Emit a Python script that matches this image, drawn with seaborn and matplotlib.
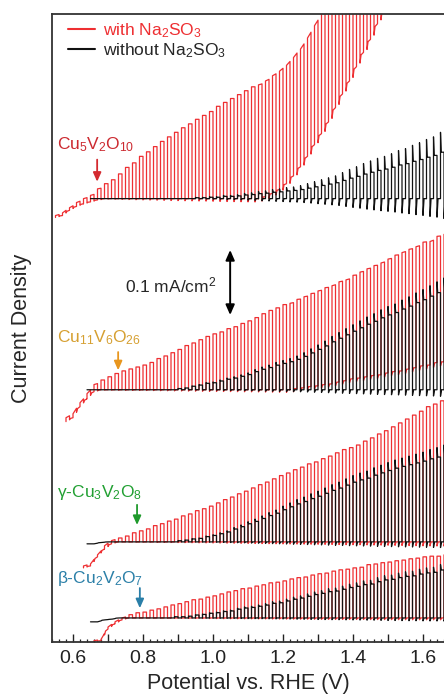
import numpy as np
import pandas as pd
import seaborn as sns
import matplotlib.pyplot as plt
from matplotlib.ticker import MultipleLocator, FuncFormatter

# light chopped once every 20 mV of the sweep (on for the first half)
period = 0.02

# values per chop cycle in uA/cm2, relative to each trace's dark baseline
# "on" = light-on level, "off" = dark level at the end of that cycle

# Cu5V2O10
cu5_red_start = 0.55
cu5_red_on = [-23, -14, -8, -2, 3, 8, 17, 23, 29, 38, 48, 55, 65, 72, 80, 88,
              95, 102, 109, 115, 122, 128, 134, 142, 148, 154, 160, 166, 172,
              178, 186, 195, 205, 217, 231, 246, 265, 283, 303, 325, 346, 366,
              388, 409, 431, 454, 477]
cu5_red_off = [-26, -18, -12, -8, -5, -2] + [0] * 23 + [
    3, 8, 14, 23, 35, 49, 65, 83, 100, 118, 140, 161, 181, 203, 225, 245,
    269, 292]
cu5_black_start = 0.65
cu5_black_on = [0] * 15 + [2, 2, 3, 3, 5, 5, 6, 8, 9, 11, 12, 14, 15, 17, 18,
                           20, 23, 26, 29, 32, 35, 40, 45, 49, 54, 58, 62, 65,
                           69, 74, 77, 82, 86, 91, 95, 102]
cu5_black_off = [0] * 51

# Cu11V6O26
cu11_red_start = 0.58
cu11_red_on = [-37, -20, -8, 5, 11, 15, 20, 25, 29, 32, 35, 38, 42, 48, 52, 57,
               62, 68, 72, 77, 82, 86, 89, 94, 97, 102, 106, 111, 117, 122,
               126, 131, 135, 140, 145, 149, 154, 158, 163, 168, 172, 177, 183,
               188, 192, 198, 203, 208, 214, 218, 223, 228, 232, 237, 242]
cu11_red_off = [-43, -26, -14, -3] + [0] * 28 + [
    2, 3, 5, 6, 8, 9, 12, 14, 17, 18, 20, 22, 23, 26, 28, 29, 32, 34, 37, 38,
    42, 43, 46]
cu11_black_start = 0.64
cu11_black_on = [0] * 13 + [2, 3, 6, 8, 11, 12, 15, 18, 20, 23, 26, 31, 35, 38,
                            42, 45, 48, 52, 57, 63, 69, 75, 82, 88, 94, 100,
                            106, 112, 117, 123, 128, 132, 138, 143, 149, 154,
                            160, 166, 172]
cu11_black_off = [0] * 52

# gamma-Cu3V2O8
g_red_start = 0.63
g_red_on = [-34, -20, -8, 2, 5, 6, 9, 14, 17, 20, 25, 28, 32, 35, 40, 43, 48,
            51, 55, 60, 65, 69, 74, 78, 83, 88, 92, 97, 102, 106, 111, 115,
            120, 123, 128, 132, 137, 142, 145, 149, 155, 160, 166, 171, 177,
            183, 189, 195, 201, 208, 212, 217]
g_red_off = [-37, -23, -11, -3] + [0] * 48
g_black_start = 0.64
g_black_on = [-3, -1] + [0] * 11 + [2, 3, 5, 6, 9, 11, 14, 17, 22, 26, 31, 35,
                                    40, 45, 49, 55, 60, 65, 69, 74, 78, 83, 88,
                                    92, 97, 102, 106, 109, 114, 118, 122, 126,
                                    129, 132, 135, 138, 142, 145, 149]
g_black_off = [-3, -1] + [0] * 50

# beta-Cu2V2O7
b_red_start = 0.66
b_red_on = [-33, -15, -6, 0, 3, 5, 8, 9, 12, 14, 17, 20, 22, 25, 28, 29, 32,
            34, 37, 40, 42, 45, 46, 49, 51, 54, 55, 57, 60, 62, 63, 66, 68, 69,
            72, 74, 75, 77, 78, 82, 83, 85, 86, 88, 89, 91, 92, 94, 95, 95, 97]
b_red_off = [-35, -17, -9, -3] + [0] * 47
b_black_start = 0.65
b_black_on = [-6, -3, -2] + [0] * 9 + [2, 2, 3, 5, 6, 8, 9, 11, 12, 15, 17, 18,
                                       20, 22, 25, 26, 29, 32, 34, 37, 40, 42,
                                       45, 46, 49, 52, 54, 57, 58, 62, 65, 66,
                                       69, 71, 72, 75, 77, 78, 82]
b_black_off = [-6, -3, -2] + [0] * 48

# vertical stacking of the four films (mA/cm2)
offsets = [0.682, 0.388, 0.154, 0.037]

names = [r'Cu$_5$V$_2$O$_{10}$', r'Cu$_{11}$V$_6$O$_{26}$',
         r'γ-Cu$_3$V$_2$O$_8$', r'β-Cu$_2$V$_2$O$_7$']
name_colors = ['#cc2a30', '#d6a032', '#22a033', '#2c80a8']
arrow_colors = ['#d42a30', '#e8961e', '#1f9a2c', '#2a7fa8']
red = '#ee2f32'
black = '#111111'


def chopped(v0, on, off, offset, plateau=1.0, under=0.0):
    # dark level drifts linearly from the previous cycle's value to this one
    h = period / 2
    v = [v0]
    j = [off[0] - (on[0] - off[0])]
    prev = j[0]
    for i, (a, b) in enumerate(zip(on, off)):
        t = v0 + i * period
        d = a - b
        mid = (prev + b) / 2
        q = prev + 0.1 * (b - prev)
        v += [t, t, t + 0.2 * h, t + h, t + h, t + 1.3 * h, t + 2 * h]
        j += [prev, prev + d, q + plateau * d, mid + plateau * d,
              mid - under * d, mid + 0.65 * (b - mid), b]
        prev = b
    return pd.DataFrame({'V': v, 'J': offset + np.array(j) / 1000.0})


sns.set_theme(style='ticks')
plt.rcParams['font.family'] = ['Liberation Sans', 'DejaVu Sans']
plt.rcParams['mathtext.fontset'] = 'custom'
plt.rcParams['mathtext.rm'] = 'Liberation Sans'
plt.rcParams['mathtext.it'] = 'Liberation Sans:italic'

fig = plt.figure(figsize=(4.44, 6.98), dpi=100)
ax = fig.add_axes([52 / 444, 56 / 698, 392 / 444, 628 / 698])

traces = [
    (cu5_red_start, cu5_red_on, cu5_red_off,
     cu5_black_start, cu5_black_on, cu5_black_off, 0.7, 0.3),
    (cu11_red_start, cu11_red_on, cu11_red_off,
     cu11_black_start, cu11_black_on, cu11_black_off, 0.9, 0.06),
    (g_red_start, g_red_on, g_red_off,
     g_black_start, g_black_on, g_black_off, 0.9, 0.06),
    (b_red_start, b_red_on, b_red_off,
     b_black_start, b_black_on, b_black_off, 0.9, 0.06),
]

for k, (rs, ron, roff, bs, bon, boff, pl, un) in enumerate(traces):
    dr = chopped(rs, ron, roff, offsets[k], 1.0, 0.03)
    db = chopped(bs, bon, boff, offsets[k], pl, un)
    sns.lineplot(data=dr, x='V', y='J', sort=False, estimator=None,
                 color=red, lw=0.9, ax=ax)
    sns.lineplot(data=db, x='V', y='J', sort=False, estimator=None,
                 color=black, lw=0.9, ax=ax)

# film labels and onset arrows
label_pos = [(0.554, 0.758), (0.554, 0.4615), (0.554, 0.223), (0.554, 0.091)]
arrow_pos = [(0.669, 0.742, 0.708), (0.729, 0.446, 0.418),
             (0.783, 0.211, 0.180), (0.791, 0.083, 0.052)]
for k in range(4):
    ax.text(*label_pos[k], names[k], color=name_colors[k], fontsize=12.5,
            va='baseline', ha='left')
    x, y0, y1 = arrow_pos[k]
    ax.annotate('', xy=(x, y1), xytext=(x, y0),
                arrowprops=dict(arrowstyle='-|>,head_length=0.45,head_width=0.2',
                                color=arrow_colors[k], lw=1.3,
                                shrinkA=0, shrinkB=0))

# 0.1 mA/cm2 scale bar
ax.annotate('', xy=(1.049, 0.603), xytext=(1.049, 0.503),
            arrowprops=dict(arrowstyle='<|-|>,head_length=0.5,head_width=0.22',
                            color='black', lw=1.4, shrinkA=0, shrinkB=0))
ax.text(0.749, 0.538, r'0.1 mA/cm$^2$', fontsize=12.5, va='baseline',
        ha='left')

# legend
h_red, = ax.plot([], [], color=red, lw=1.5)
h_blk, = ax.plot([], [], color=black, lw=1.5)
leg = ax.legend([h_red, h_blk], [r'with Na$_2$SO$_3$', r'without Na$_2$SO$_3$'],
                loc='upper left', bbox_to_anchor=(0.04, 0.988), frameon=False,
                fontsize=12.5, handlelength=1.6, handletextpad=0.45,
                labelspacing=0.05, borderpad=0, borderaxespad=0)
leg.get_texts()[0].set_color(red)

ax.set_xlim(0.54, 1.66)
ax.set_ylim(0, 0.966)
ax.xaxis.set_major_locator(MultipleLocator(0.1))
ax.xaxis.set_minor_locator(MultipleLocator(0.02))
ax.xaxis.set_major_formatter(
    FuncFormatter(lambda v, p: f'{v:.1f}' if round(v * 10) % 2 == 0 else ''))
ax.tick_params(axis='x', which='major', direction='in', length=5.5, width=1,
               labelsize=14, pad=6, colors='#222222')
ax.tick_params(axis='x', which='minor', direction='in', length=2.5, width=0.9,
               colors='#222222')
ax.set_yticks([])
for s in ['left', 'top', 'bottom']:
    ax.spines[s].set_linewidth(1.3)
    ax.spines[s].set_color('#333333')
ax.spines['right'].set_visible(False)

ax.set_xlabel('Potential vs. RHE (V)', fontsize=15.5, labelpad=4)
ax.set_ylabel('Current Density', fontsize=15.5)
ax.yaxis.set_label_coords(-0.05, 0.5)

fig.savefig('out.png', dpi=100)
